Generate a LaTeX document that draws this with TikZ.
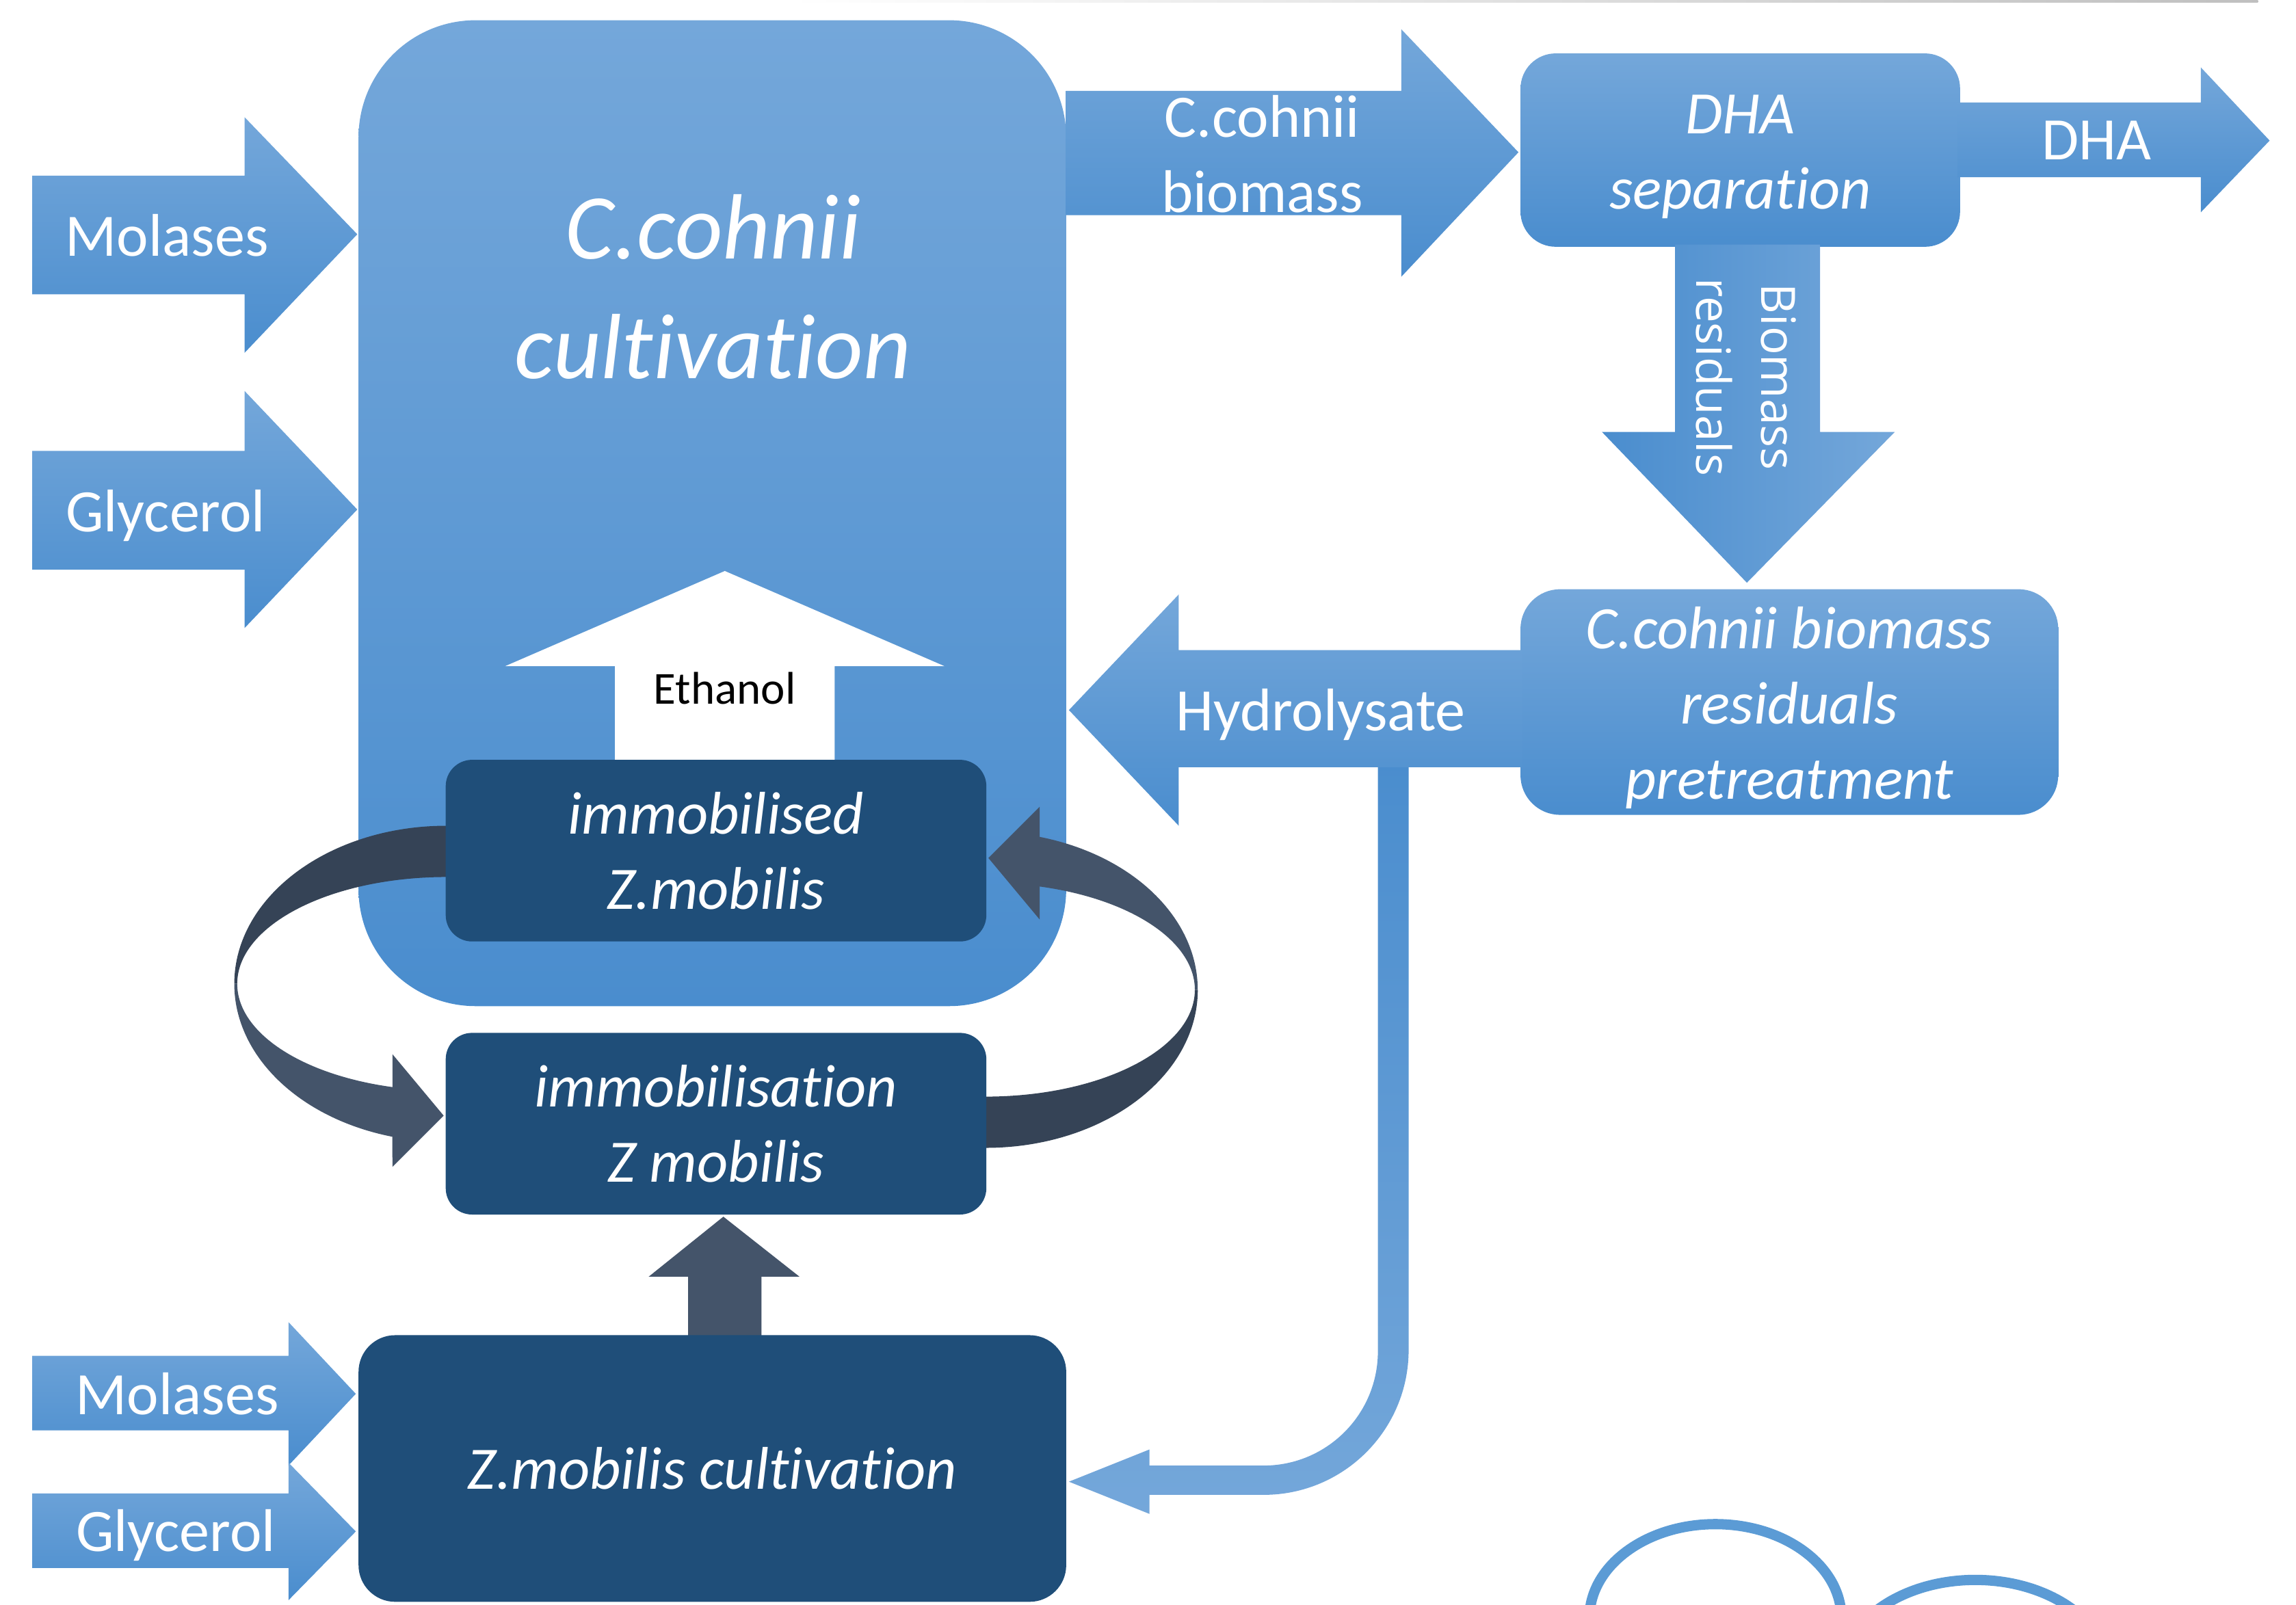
\documentclass[tikz,border=0pt]{standalone}
\usepackage{fontspec}
\setmainfont[Ligatures=NoCommon]{Carlito}
\newfontfamily\opensans{Open Sans}
\newcommand{\labfont}{\fontsize{11.7}{14.6}\selectfont}
\newcommand{\bigtitlefont}{\fontsize{18}{23.2}\selectfont}
\newcommand{\ethfont}{\fontsize{8.9}{11}\selectfont}
\definecolor{bluetop}{HTML}{74A7DA}
\definecolor{bluebot}{HTML}{4A8DCE}
\definecolor{navy}{HTML}{1F4E79}
\definecolor{slate}{HTML}{44546A}
\definecolor{slatedark}{HTML}{354356}
\definecolor{ringblue}{HTML}{5B9BD5}
\tikzset{
  lightgrad/.style={top color=bluetop, bottom color=bluebot},
  sidegrad/.style={left color=bluebot, right color=bluetop},
  bentgrad/.style={top color=bluebot, bottom color=bluetop},
  bluebox/.style={lightgrad, rounded corners=#1, inner sep=0pt},
  darkbox/.style={fill=navy, rounded corners=#1, inner sep=0pt, text=white, align=center, font=\labfont\itshape},
  boxtext/.style={text=white, align=center, inner sep=0pt, font=\labfont\itshape},
  arrowlab/.style={text=white, font=\labfont, inner sep=0pt, anchor=base},
  backarc/.style={fill=slatedark},
  frontarc/.style={fill=slate},
  ring/.style={draw=ringblue, line width=2pt}
}
\begin{document}
\begin{tikzpicture}[x=0.01cm, y=-0.01cm]
	\useasboundingbox (0,0) rectangle (1568,1096);
	\clip (0,0) rectangle (1568,1096);
	% faint line along the top
	\path[left color=white, right color=gray!50] (540,0) rectangle (1542,1.6);

	% C.cohnii cultivation
	\node[bluebox=0.8cm, minimum width=4.83cm, minimum height=6.73cm] (ccult) at (486.5,350.5) {};
	\node[text=white, align=center, inner sep=0pt, font=\bigtitlefont\itshape] (ccultlab) at (487,196) {C.cohnii\\cultivation};
	\path[lightgrad] (22,120) -- (167,120) -- (167,80) -- (244,160) -- (167,241) -- (167,201) -- (22,201) -- cycle;
	\path[lightgrad] (22,308) -- (167,308) -- (167,267) -- (244,348) -- (167,429) -- (167,389) -- (22,389) -- cycle;
	\path[lightgrad] (728,62) -- (957,62) -- (957,20) -- (1037,104) -- (957,189) -- (957,147) -- (728,147) -- cycle;

	% DHA separation
	\node[bluebox=0.24cm, minimum width=3cm, minimum height=1.32cm] (dhasep) at (1188.5,102.5) {};
	\node[boxtext] (dhaseplab) at ([yshift=-0.045cm]dhasep.center) {DHA\\separation};
	\path[lightgrad] (1337,70) -- (1503,70) -- (1503,46) -- (1550,96) -- (1503,145) -- (1503,121) -- (1337,121) -- cycle;
	\path[sidegrad] (1144,167) -- (1243,167) -- (1243,295) -- (1294,295) -- (1193,398) -- (1094,295) -- (1144,295) -- cycle;

	% pretreatment
	\node[bluebox=0.27cm, minimum width=3.67cm, minimum height=1.54cm] (pretreat) at (1222,479.5) {};
	\node[boxtext] (pretreatlab) at ([yshift=-0.04cm]pretreat.center) {C.cohnii biomass\\residuals\\pretreatment};
	\path[bentgrad] (941,520) -- (962,520) -- (962,922) arc[start angle=0, end angle=90, radius=99] -- (785,1021) -- (785,1034) -- (730,1012) -- (785,990) -- (785,1001) -- (863,1001) arc[start angle=90, end angle=0, radius=78] -- cycle;
	\path[lightgrad] (1040,444) -- (805,444) -- (805,406) -- (730,485) -- (805,564) -- (805,524) -- (1040,524) -- cycle;

	% ethanol
	\fill[white] (420,519) -- (420,455) -- (345,455) -- (495,390) -- (645,455) -- (570,455) -- (570,519) -- cycle;

	% turning arrows
	\path[backarc] (305,564) arc[start angle=270, end angle=180, x radius=145, y radius=108] -- (162,672) arc[start angle=180, end angle=270, x radius=143, y radius=73] -- cycle;
	\path[frontarc] (160,672) arc[start angle=180, end angle=104.8, x radius=145, y radius=108] -- (268,797) -- (303,762) -- (268,720) -- (268,742.5) arc[start angle=105, end angle=180, x radius=143, y radius=73] -- cycle;
	\path[frontarc] (710,605.5) -- (710,628) -- (675,586) -- (710,551) -- (710,571.6) arc[start angle=284.8, end angle=360, x radius=145, y radius=108] -- (816,676) arc[start angle=0, end angle=-75, x radius=143, y radius=73] -- cycle;
	\path[backarc] (818,676) arc[start angle=0, end angle=90, x radius=145, y radius=108] -- (673,749) arc[start angle=90, end angle=0, x radius=143, y radius=73] -- cycle;

	\node[darkbox=0.18cm, minimum width=3.69cm, minimum height=1.24cm] (immob) at (489,581) {immobilised\\Z.mobilis};
	\node[darkbox=0.18cm, minimum width=3.69cm, minimum height=1.24cm] (immobn) at (489,767.5) {immobilisation\\Z mobilis};

	% Z.mobilis cultivation
	\path[frontarc] (470,913) -- (470,872) -- (443,872) -- (494,831) -- (546,872) -- (520,872) -- (520,913) -- cycle;
	\node[darkbox=0.25cm, minimum width=4.83cm, minimum height=1.82cm] (zcult) at (486.5,1003) {Z.mobilis cultivation};
	\path[lightgrad] (22,926) -- (197,926) -- (197,903) -- (243,952) -- (197,1001) -- (197,977) -- (22,977) -- cycle;
	\path[lightgrad] (22,1020) -- (197,1020) -- (197,999) -- (243,1046) -- (197,1093) -- (197,1071) -- (22,1071) -- cycle;

	\draw[ring] (1171.5,1105) ellipse [x radius=86, y radius=64];
	\draw[ring] (1349,1143.6) ellipse [x radius=91.5, y radius=64.5];

	% labels
	\node[arrowlab] (molA) at (114,175) {Molases};
	\node[arrowlab] (glyA) at (113,363) {Glycerol};
	\node[text=white, align=center, inner sep=0pt, font=\labfont] (cbio) at (862,105) {C.cohnii\\biomass};
	\node[arrowlab] (dhaout) at (1432,109) {DHA};
	\node[text=white, align=center, inner sep=0pt, rotate=-90, font=\opensans\fontsize{9.2}{12.6}\selectfont] (bres) at (1192.5,257.5) {Biomass\\residuals};
	\node[arrowlab] (hydro) at (902,499) {Hydrolysate};
	\node[anchor=base, inner sep=0pt, font=\ethfont] (eth) at (495,481) {Ethanol};
	\node[arrowlab] (molB) at (121,966) {Molases};
	\node[arrowlab] (glyB) at (120,1059.5) {Glycerol};
\end{tikzpicture}
\end{document}
